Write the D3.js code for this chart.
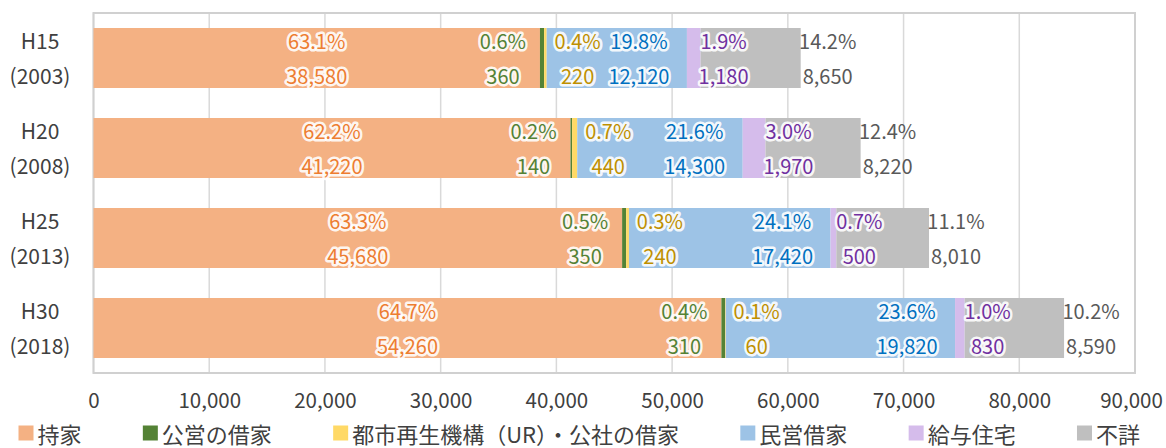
<!DOCTYPE html>
<html><head><meta charset="utf-8">
<script src="https://cdn.jsdelivr.net/npm/d3@7"></script>
<style>
html,body{margin:0;padding:0;background:#fff;}
svg{display:block;font-family:"Noto Sans CJK JP","Noto Sans",sans-serif;}
</style></head>
<body>
<svg id="chart" width="1166" height="448"></svg>
<script>
const categories = ["H15", "H20", "H25", "H30"];
const categoryYears = ["(2003)", "(2008)", "(2013)", "(2018)"];
const seriesNames = ["持家", "公営の借家", "都市再生機構（UR）・公社の借家", "民営借家", "給与住宅", "不詳"];
const ownedHouse = [38580, 41220, 45680, 54260];
const publicRental = [360, 140, 350, 310];
const urRental = [220, 440, 240, 60];
const privateRental = [12120, 14300, 17420, 19820];
const companyHousing = [1180, 1970, 500, 830];
const unknown = [8650, 8220, 8010, 8590];
const ownedPct = ["63.1%", "62.2%", "63.3%", "64.7%"];
const publicPct = ["0.6%", "0.2%", "0.5%", "0.4%"];
const urPct = ["0.4%", "0.7%", "0.3%", "0.1%"];
const privatePct = ["19.8%", "21.6%", "24.1%", "23.6%"];
const companyPct = ["1.9%", "3.0%", "0.7%", "1.0%"];
const unknownPct = ["14.2%", "12.4%", "11.1%", "10.2%"];
const xTicks = [0, 10000, 20000, 30000, 40000, 50000, 60000, 70000, 80000, 90000];

const values = [ownedHouse, publicRental, urRental, privateRental, companyHousing, unknown];
const pcts = [ownedPct, publicPct, urPct, privatePct, companyPct, unknownPct];
const fills = ["#F4B183", "#548235", "#FFD966", "#9DC3E6", "#D5BCEB", "#BFBFBF"];
const textColors = ["#ED7D31", "#548235", "#BF9000", "#0070C0", "#7030A0", "#595959"];

const svg = d3.select("#chart");
const M = {left: 93.5, right: 1135, top: 13, bottom: 373};
const x = d3.scaleLinear().domain([0, 90000]).range([M.left, M.right]);
const y = d3.scaleBand().domain(categories).range([M.top, M.bottom]).paddingInner(1/3).paddingOuter(1/6);

// gridlines
svg.append("g").selectAll("line").data(xTicks).join("line")
  .attr("x1", d => x(d)).attr("x2", d => x(d))
  .attr("y1", M.top).attr("y2", M.bottom)
  .attr("stroke", "#D9D9D9").attr("stroke-width", 1.5);
// plot border
svg.append("rect").attr("x", M.left).attr("y", M.top)
  .attr("width", M.right - M.left).attr("height", M.bottom - M.top)
  .attr("fill", "none").attr("stroke", "#D0D0D0").attr("stroke-width", 2);

// stacked data
const rows = categories.map((c, i) => {
  let acc = 0;
  return values.map((arr, s) => {
    const x0 = acc; acc += arr[i];
    return {cat: c, i, s, x0, x1: acc, v: arr[i], p: pcts[s][i]};
  });
});
const segs = rows.flat();

svg.append("g").selectAll("rect").data(segs).join("rect")
  .attr("x", d => x(d.x0)).attr("y", d => y(d.cat))
  .attr("width", d => x(d.x1) - x(d.x0)).attr("height", y.bandwidth())
  .attr("fill", d => fills[d.s]);

// label positioning rules per series
function labelX(d) {
  const a = x(d.x0), b = x(d.x1);
  switch (d.s) {
    case 0: return (a + b) / 2;
    case 1: return a - 37;
    case 2: return b + 31;
    case 3: return b - 48;
    case 4: return b + 23;
    case 5: return b + 27;
  }
}
const lab = svg.append("g").attr("font-size", 20);
segs.forEach(d => {
  const cy = y(d.cat) + y.bandwidth() / 2;
  const halo = d.s !== 5;
  [[d.p, -17.5], [d3.format(",")(d.v), 17.5]].forEach(([t, off]) => {
    const el = lab.append("text")
      .attr("x", labelX(d)).attr("y", cy + off)
      .attr("text-anchor", "middle").attr("dominant-baseline", "central")
      .attr("fill", textColors[d.s]).text(t);
    if (halo) el.attr("stroke", "#fff").attr("stroke-width", 5)
      .attr("stroke-linejoin", "round").attr("paint-order", "stroke")
      .attr("stroke-opacity", 0.9);
  });
});

// category labels
const cg = svg.append("g").attr("font-size", 21).attr("fill", "#404040").attr("text-anchor", "middle");
categories.forEach((c, i) => {
  const cy = y(c) + y.bandwidth() / 2;
  cg.append("text").attr("x", 40).attr("y", cy - 18).attr("dominant-baseline", "central").text(c);
  cg.append("text").attr("x", 40).attr("y", cy + 17).attr("dominant-baseline", "central").text(categoryYears[i]);
});

// x axis
const ax = svg.append("g").attr("transform", `translate(0,${M.bottom})`)
  .call(d3.axisBottom(x).tickValues(xTicks).tickFormat(d3.format(",")).tickSize(0).tickPadding(20));
ax.select(".domain").remove();
ax.selectAll("text").attr("font-size", 20.5).attr("fill", "#404040")
  .attr("dx", d => d === 90000 ? -4 : 0)
  .attr("font-family", '"Noto Sans CJK JP","Noto Sans",sans-serif');

// legend
const lg = svg.append("g").attr("font-size", 22).attr("fill", "#404040");
const legendLeft = 18.5, legendRight = 1140;
const gs = [], ws = [];
seriesNames.forEach((n, s) => {
  const g = lg.append("g");
  g.append("rect").attr("x", 0).attr("y", -7.5).attr("width", 15).attr("height", 15).attr("fill", fills[s]);
  const t = g.append("text").attr("x", 19).attr("y", 0).attr("dominant-baseline", "central").text(n);
  gs.push(g); ws.push(19 + t.node().getComputedTextLength());
});
const gap = (legendRight - legendLeft - d3.sum(ws)) / (ws.length - 1);
let cx = 0;
gs.forEach((g, i) => { g.attr("transform", `translate(${cx},0)`); cx += ws[i] + gap; });
lg.attr("transform", `translate(${legendLeft},433)`);
</script>
</body></html>
